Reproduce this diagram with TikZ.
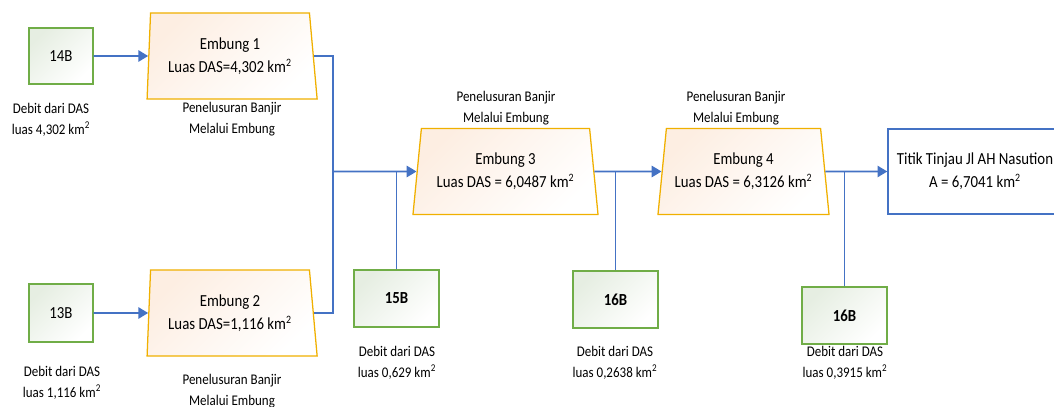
\documentclass[tikz,border=0pt]{standalone}
\usepackage{fontspec}
\setmainfont{Carlito}[FakeStretch=0.88]
\usetikzlibrary{shapes.geometric,arrows.meta}
\definecolor{flowblue}{RGB}{68,114,196}
\definecolor{dasgreen}{RGB}{112,173,71}
\definecolor{dasfill}{RGB}{230,238,226}
\definecolor{embgold}{RGB}{240,176,0}
\definecolor{embfill}{RGB}{253,238,226}
\newcommand{\kmsq}{km\textsuperscript{2}}
\tikzset{
  dasbox/.style={draw=dasgreen,line width=0.9pt,top color=dasfill,bottom color=white,
    shading angle=45,minimum width=2.125cm,minimum height=1.425cm,
    font=\fontsize{12}{14}\selectfont},
  embung/.style={trapezium,trapezium stretches body=true,draw=embgold,line width=0.9pt,
    top color=embfill,bottom color=white,shading angle=45,minimum height=2.15cm,
    align=center,inner sep=1pt,font=\fontsize{12}{16.3}\selectfont},
  note/.style={align=center,font=\fontsize{10.5}{14.9}\selectfont},
  flow/.style={draw=flowblue,line width=1.4pt,-{Triangle[length=7pt,width=8pt]}},
  link/.style={draw=flowblue,line width=1.2pt}
}
\begin{document}
\begin{tikzpicture}[x=0.025cm,y=-0.025cm]
  \useasboundingbox (0,0) rectangle (1054,407);
  % sumber debit
  \node[dasbox,minimum width=1.6cm,minimum height=1.4cm] (c14) at (61,56) {14B};
  \node[dasbox,minimum width=1.6cm,minimum height=1.45cm] (c13) at (61,313) {13B};
  \node[dasbox,font=\fontsize{12}{14}\bfseries] (c15) at (396.5,298.5) {15B};
  \node[dasbox,font=\fontsize{12}{14}\bfseries] (c16a) at (615.5,299.5) {16B};
  \node[dasbox,font=\fontsize{12}{14}\bfseries] (c16b) at (844.5,315.5) {16B};
  \node[note] (d14) at (51,119.5) {Debit dari DAS\\luas 4,302 \kmsq};
  \node[note] (d13) at (62,382.5) {Debit dari DAS\\luas 1,116 \kmsq};
  \node[note] (d15) at (397,362.5) {Debit dari DAS\\luas 0,629 \kmsq};
  \node[note] (d16a) at (615,362.5) {Debit dari DAS\\luas 0,2638 \kmsq};
  \node[note] (d16b) at (845,362.5) {Debit dari DAS\\luas 0,3915 \kmsq};
  % embung
  \node[embung,minimum width=4.25cm,trapezium left angle=85,trapezium right angle=79]
    (e1) at (230,56) {Embung 1\\Luas DAS=4,302 \kmsq};
  \node[embung,minimum width=4.25cm,trapezium left angle=85,trapezium right angle=79]
    (e2) at (230,313) {Embung 2\\Luas DAS=1,116 \kmsq};
  \node[embung,minimum width=4.625cm,trapezium angle=78]
    (e3) at (505.5,171.5) {Embung 3\\Luas DAS = 6,0487 \kmsq};
  \node[embung,minimum width=4.275cm,trapezium angle=78]
    (e4) at (743.5,171.5) {Embung 4\\Luas DAS = 6,3126 \kmsq};
  \node[note] (p1) at (232,119.5) {Penelusuran Banjir\\Melalui Embung};
  \node[note] (p2) at (232,391.5) {Penelusuran Banjir\\Melalui Embung};
  \node[note] (p3) at (506,108) {Penelusuran Banjir\\Melalui Embung};
  \node[note] (p4) at (736,108) {Penelusuran Banjir\\Melalui Embung};
  % titik tinjau
  \node[draw=flowblue,line width=0.9pt,fill=white,minimum width=4.35cm,minimum height=2.125cm,
    align=center,font=\fontsize{12}{16.3}\selectfont]
    (tt) at (975,171.5) {Titik Tinjau Jl AH Nasution\\A = 6,7041 \kmsq};
  % aliran
  \coordinate (j1) at (333,171.5);
  \coordinate (j2) at (c15 |- j1);
  \coordinate (j3) at (c16a |- j1);
  \coordinate (j4) at (c16b |- j1);
  \draw[flow] (c14) -- (e1);
  \draw[flow] (c13) -- (e2);
  \draw[link] (e1.east) -| (j1) |- (e2.east);
  \draw[flow] (j1) -- (e3);
  \draw[link] (c15) -- (j2);
  \draw[flow] (e3) -- (e4);
  \draw[link] (c16a) -- (j3);
  \draw[flow] (e4) -- (tt);
  \draw[link] (c16b) -- (j4);
\end{tikzpicture}
\end{document}
